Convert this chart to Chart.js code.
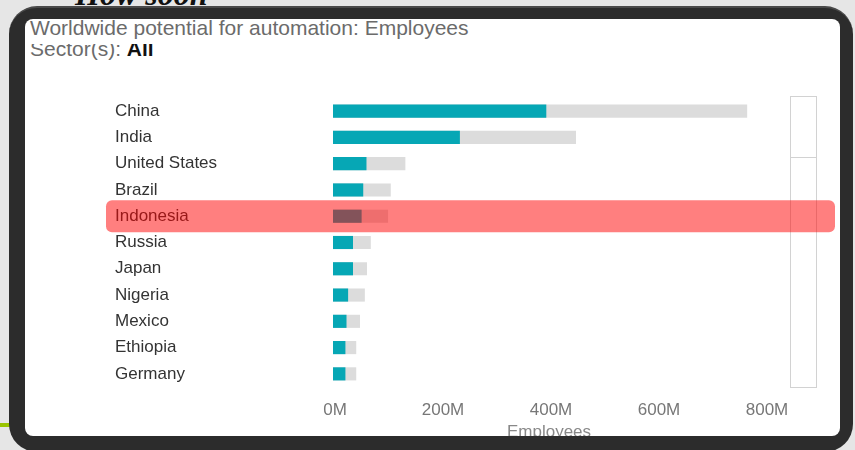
<!DOCTYPE html>
<html>
<head>
<meta charset="utf-8">
<script src="https://cdn.jsdelivr.net/npm/chart.js@4/dist/chart.umd.min.js"></script>
<style>
  html, body { margin: 0; padding: 0; }
  body { width: 855px; height: 450px; overflow: hidden; position: relative; background: #e6e6e6; font-family: "Liberation Sans", Arial, sans-serif; }
  #slideTitle { position: absolute; left: 75px; top: -22px; font: italic bold 32px "Liberation Serif", serif; line-height: 32px; color: #111; white-space: nowrap; }
  #greenLine { position: absolute; left: 0; top: 423px; width: 12px; height: 4px; background: #99c400; }
  #frame { position: absolute; left: 9px; top: 6px; width: 844px; height: 446px; background: #2c2c2c; border-radius: 28px; border-top: 2px solid #4a4a4a; box-sizing: border-box; }
  #panel { position: absolute; left: 25px; top: 19px; width: 815px; height: 417px; background: #fff; border-radius: 8px; overflow: hidden; }
  #title1 { position: absolute; left: 5px; top: -2px; font-size: 21px; line-height: 21px; color: #6b6b6b; white-space: nowrap; }
  #title2wrap { position: absolute; left: 5px; top: 25px; height: 20px; width: 300px; overflow: hidden; }
  #title2 { position: relative; top: -6px; font-size: 21px; line-height: 21px; color: #6b6b6b; white-space: nowrap; }
  #title2 b { color: #111; }
  #scrollbar { position: absolute; left: 765px; top: 77px; width: 25px; height: 290px; border: 1px solid #d2d2d2; }
  #thumb { position: absolute; left: 0; top: 0; width: 25px; height: 60px; border-bottom: 1px solid #d2d2d2; }
  #chartBox { position: absolute; left: 0; top: 0; width: 815px; height: 425px; }
</style>
</head>
<body>
<div id="slideTitle">How soon</div>
<div id="greenLine"></div>
<div id="frame"></div>
<div id="panel">
  <div id="title1">Worldwide potential for automation: Employees</div>
  <div id="title2wrap"><div id="title2">Sector(s): <b>All</b></div></div>
  <div id="scrollbar"><div id="thumb"></div></div>
  <div id="chartBox"><canvas id="myChart" width="815" height="425"></canvas></div>
</div>
<script>
// 国家 (countries)
const countries = ['China', 'India', 'United States', 'Brazil', 'Indonesia', 'Russia', 'Japan', 'Nigeria', 'Mexico', 'Ethiopia', 'Germany'];
// automatable employees, millions
const automatable = [395, 235, 62, 56, 53, 37, 37, 28, 25, 23, 23];
// total employees, millions
const totalEmployees = [767, 450, 134, 107, 102, 70, 63, 59, 50, 43, 43];
const xTicks = [0, 200, 400, 600, 800];
const highlighted = 'Indonesia';

// 高亮一行 (highlight band over one row)
const highlightPlugin = {
    id: 'highlightRow',
    afterDraw(chart) {
        const idx = countries.indexOf(highlighted);
        if (idx < 0) return;
        const y = chart.scales.y.getPixelForValue(idx);
        const ctx = chart.ctx;
        ctx.save();
        ctx.fillStyle = 'rgba(255, 0, 0, 0.5)';
        ctx.beginPath();
        ctx.roundRect(81, y - 16, 729, 32, 6);
        ctx.fill();
        ctx.restore();
    }
};

const ctx = document.getElementById('myChart').getContext('2d');
const myChart = new Chart(ctx, {
    type: 'bar',
    data: {
        labels: countries,
        datasets: [
            {
                label: 'Automatable',
                data: automatable,
                backgroundColor: '#06a7b5',
                grouped: false,
                barPercentage: 0.5,
                categoryPercentage: 1
            },
            {
                label: 'Employees',
                data: totalEmployees,
                backgroundColor: '#dcdcdc',
                grouped: false,
                barPercentage: 0.5,
                categoryPercentage: 1
            }
        ]
    },
    options: {
        indexAxis: 'y',
        responsive: false,
        animation: false,
        devicePixelRatio: 1,
        layout: { padding: { left: 90, top: 79, right: 75, bottom: 0 } },
        plugins: { legend: { display: false }, tooltip: { enabled: false } },
        scales: {
            y: {
                grid: { display: false, drawTicks: false },
                border: { display: false },
                ticks: {
                    crossAlign: 'far',
                    color: '#333',
                    font: { family: 'Liberation Sans', size: 17 }
                },
                afterFit(scale) { scale.width = 218; }
            },
            x: {
                min: 0,
                max: 800,
                grid: { display: false, drawTicks: false },
                border: { display: false },
                afterBuildTicks(scale) { scale.ticks = xTicks.map(v => ({ value: v })); },
                ticks: {
                    padding: 13,
                    labelOffset: 2,
                    color: '#777',
                    font: { family: 'Liberation Sans', size: 17 },
                    callback: v => v + 'M'
                },
                title: {
                    display: true,
                    text: 'Employees',
                    color: '#888',
                    font: { family: 'Liberation Sans', size: 17 },
                    padding: { top: 0, bottom: 1 }
                },
                afterFit(scale) { scale.height = 57; }
            }
        }
    },
    plugins: [highlightPlugin]
});
</script>
</body>
</html>
